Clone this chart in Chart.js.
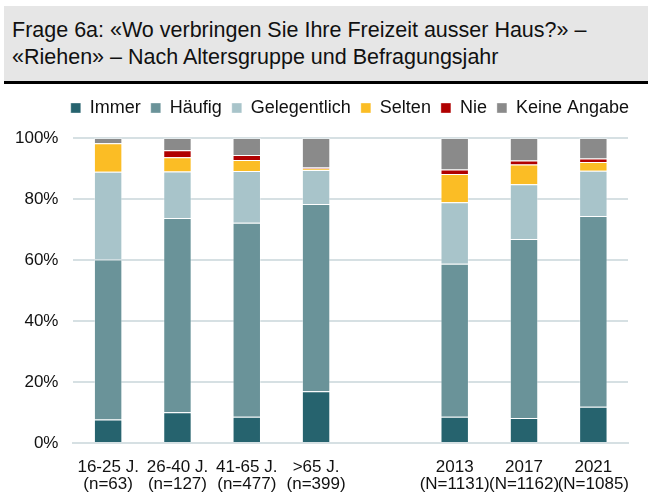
<!DOCTYPE html>
<html>
<head>
<meta charset="utf-8">
<script src="https://cdn.jsdelivr.net/npm/chart.js@4"></script>
<style>
    body { margin: 0; background: #fff; font-family: "Liberation Sans", Arial, sans-serif; overflow: hidden; }
    .title {
        position: absolute; left: 4px; top: 6px; width: 644px; height: 78px;
        background: #e6e6e6; border-bottom: 3px solid #000;
        box-sizing: border-box; padding: 11px 0 0 8px;
        font-size: 21.5px; line-height: 27px; color: #111;
    }
    .wrap { position: absolute; left: 0; top: 88px; width: 648px; height: 419px; }
</style>
</head>
<body>
<div class="title">Frage 6a: «Wo verbringen Sie Ihre Freizeit ausser Haus?» –<br>«Riehen» – Nach Altersgruppe und Befragungsjahr</div>
<div class="wrap"><canvas id="chart"></canvas></div>
<script>
// categories (empty slot separates age groups from survey years)
const categories = [
    ['16-25 J.', '(n=63)'], ['26-40 J.', '(n=127)'], ['41-65 J.', '(n=477)'], ['>65 J.', '(n=399)'],
    ['', ''],
    ['2013', '(N=1131)'], ['2017', '(N=1162)'], ['2021', '(N=1085)']
];

// values in percent
const immer        = [7.7, 10.1, 8.6, 17.0, null, 8.6, 8.2, 11.9];
const haeufig      = [52.5, 63.7, 63.6, 61.4, null, 50.2, 58.7, 62.5];
const gelegentlich = [28.7, 15.2, 17.0, 11.1, null, 20.1, 17.9, 14.9];
const selten       = [9.4, 4.7, 3.6, 0.5, null, 9.3, 6.5, 2.8];
const nie          = [0.0, 2.3, 1.6, 0.3, null, 1.5, 1.3, 1.2];
const keineAngabe  = [1.7, 4.0, 5.6, 9.7, null, 10.3, 7.4, 6.7];

const yTicks = [0, 20, 40, 60, 80, 100];

const series = [
    { label: 'Immer', data: immer, color: '#26636e' },
    { label: 'Häufig', data: haeufig, color: '#6a9399' },
    { label: 'Gelegentlich', data: gelegentlich, color: '#a8c4ca' },
    { label: 'Selten', data: selten, color: '#fbbd25' },
    { label: 'Nie', data: nie, color: '#b00000' },
    { label: 'Keine Angabe', data: keineAngabe, color: '#8a8a8a' }
];

Chart.defaults.font.family = '"Liberation Sans", Arial, sans-serif';
Chart.defaults.color = '#111';

// extra room between legend and plot, and nudge legend into place
const legendGap = {
    id: 'legendGap',
    beforeInit(chart) {
        const legend = chart.legend;
        const fit = legend.fit;
        legend.fit = function() {
            fit.bind(legend)();
            this.height += 8;
        };
        const draw = legend.draw;
        legend.draw = function() {
            const c = chart.ctx;
            c.save();
            c.translate(11, -3);
            draw.bind(legend)();
            c.restore();
        };
    }
};

const ctx = document.getElementById('chart').getContext('2d');
const chart = new Chart(ctx, {
    type: 'bar',
    data: {
        labels: categories,
        datasets: series.map(s => ({
            label: s.label,
            data: s.data,
            backgroundColor: s.color,
            borderColor: 'rgba(255,255,255,0.35)',
            borderWidth: 1,
            categoryPercentage: 1,
            barPercentage: 0.41
        }))
    },
    plugins: [legendGap],
    options: {
        responsive: true,
        maintainAspectRatio: false,
        animation: false,
        layout: { padding: { left: 0, right: 20, top: 4, bottom: 6 } },
        plugins: {
            legend: {
                position: 'top',
                align: 'end',
                labels: {
                    boxWidth: 10, boxHeight: 10, padding: 10,
                    font: { size: 18 }, color: '#111'
                }
            },
            tooltip: { enabled: false }
        },
        scales: {
            x: {
                stacked: true,
                grid: { display: false },
                border: { color: '#d6e0e3', width: 2 },
                ticks: { font: { size: 17, lineHeight: 1.0 }, color: '#111', maxRotation: 0, autoSkip: false, padding: 8 }
            },
            y: {
                stacked: true,
                min: 0, max: 100,
                afterBuildTicks: axis => { axis.ticks = yTicks.map(v => ({ value: v })); },
                grid: { color: '#d6e0e3', lineWidth: 2, drawTicks: false },
                border: { display: false },
                ticks: { font: { size: 17 }, color: '#111', padding: 15, callback: v => v + '%' }
            }
        }
    }
});
</script>
</body>
</html>
